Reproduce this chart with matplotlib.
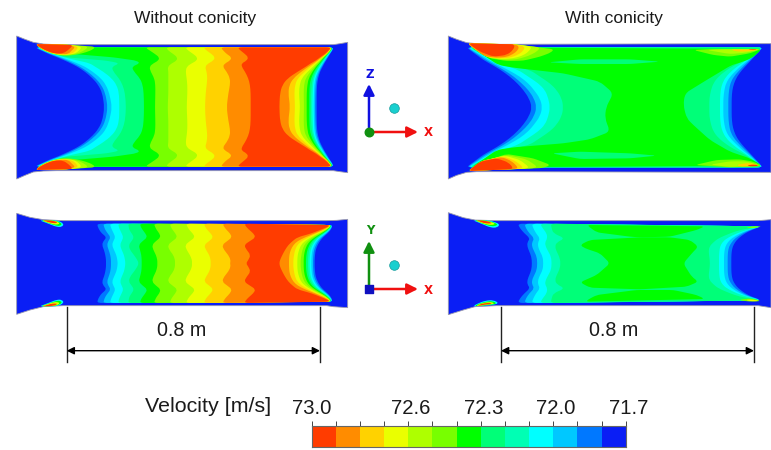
import numpy as np
import matplotlib
matplotlib.use("Agg")
import matplotlib.pyplot as plt
from matplotlib.colors import ListedColormap, BoundaryNorm
from matplotlib.transforms import ScaledTranslation
from matplotlib.path import Path
from matplotlib.patches import PathPatch

plt.rcParams['font.family'] = ['Liberation Sans', 'DejaVu Sans']

W, H = 771, 450
band_colors = ['#0A1EF5', '#0078FF', '#00C8FF', '#00FFFF', '#00FFB4', '#00FF78', '#00FF00',
               '#78FF00', '#AEFF00', '#EAFF00', '#FFD200', '#FF8C00', '#FF3C00']
velocity_edges = [71.7, 71.8, 71.9, 72.0, 72.1, 72.2, 72.3, 72.4, 72.5, 72.6, 72.7, 72.8, 72.9, 73.0]
cbar_ticklabels = {73.0: '73.0', 72.6: '72.6', 72.3: '72.3', 72.0: '72.0', 71.7: '71.7'}

# ---- iso-velocity contours (panel-local units, 3 per pixel) ----
# Without conicity, x-z view
p1_sil_x = [50, 75, 100, 130, 170, 1000, 1020, 1043, 1043, 1020, 1000, 170, 130, 100, 75, 50]
p1_sil_y = [18, 28, 37, 42, 44, 44, 41, 37, 428, 425, 422, 422, 423, 426, 436, 447]
p1_left_y = [52, 62, 72, 82, 92, 100, 110, 125, 145, 165, 190, 232]
p1_left = [
    [103, 125, 145, 172, 195, 212, 232, 255, 278, 295, 307, 313],
    [106, 128, 150, 178, 203, 220, 240, 263, 287, 304, 316, 323],
    [109, 132, 155, 185, 212, 232, 255, 278, 303, 318, 328, 336],
    [112, 135, 160, 192, 235, 270, 285, 310, 335, 350, 357, 358],
    [115, 138, 165, 200, 320, 360, 335, 340, 357, 368, 375, 378],
    [118, 142, 220, 340, 410, 420, 395, 402, 420, 428, 431, 432],
    [435, 450, 465, 478, 475, 460, 448, 452, 463, 466, 466, 465],
    [498, 505, 520, 532, 530, 515, 503, 505, 505, 505, 505, 503],
    [555, 565, 580, 592, 590, 575, 560, 557, 560, 562, 562, 560],
    [610, 620, 635, 645, 640, 625, 615, 620, 622, 620, 617, 615],
    [662, 670, 680, 695, 690, 675, 668, 680, 690, 690, 685, 680],
    [712, 722, 735, 745, 740, 725, 725, 735, 745, 750, 752, 752],
]
p1_right = [
    [1001, 997, 990, 984, 978, 973, 968, 960, 954, 951, 950, 950],
    [1000, 996, 989, 982, 976, 971, 965, 957, 950, 947, 946, 945],
    [999, 995, 987, 980, 973, 968, 962, 953, 946, 943, 942, 941],
    [998, 994, 985, 978, 971, 965, 959, 950, 942, 939, 938, 937],
    [998, 993, 984, 976, 969, 963, 956, 947, 938, 935, 933, 933],
    [997, 992, 983, 974, 966, 960, 952, 942, 933, 929, 928, 928],
    [997, 991, 982, 972, 964, 957, 948, 937, 926, 922, 920, 920],
    [996, 990, 981, 970, 961, 953, 944, 931, 917, 912, 911, 912],
    [996, 989, 980, 968, 958, 949, 939, 923, 905, 899, 897, 900],
    [995, 988, 979, 966, 955, 945, 932, 914, 893, 885, 883, 885],
    [995, 987, 978, 964, 952, 940, 925, 904, 880, 868, 865, 870],
    [994, 985, 975, 960, 947, 932, 918, 893, 863, 847, 840, 838],
]
p1_blobs = [
    (7, [105, 200, 285, 280, 258, 225, 190, 160, 130], [42, 44, 50, 58, 67, 75, 78, 72, 62]),
    (8, [105, 200, 265, 255, 232, 190, 160, 130], [42, 44, 50, 60, 71, 76, 72, 60]),
    (9, [105, 200, 245, 238, 222, 190, 160, 130], [42, 44, 50, 62, 72, 75, 71, 60]),
    (10, [105, 200, 235, 228, 215, 190, 160, 130], [42, 44, 50, 62, 72, 74, 70, 59]),
    (11, [105, 200, 227, 215, 205, 185, 158, 128], [42, 44, 50, 62, 72, 73, 69, 58]),
    (12, [105, 220, 205, 190, 170, 150, 125], [42, 45, 60, 70, 71, 67, 55]),
]

# With conicity, x-z view
p2_sil_x = [55, 80, 110, 140, 175, 1023, 1023, 175, 140, 110, 80, 55]
p2_sil_y = [18, 28, 38, 41, 43, 41, 427, 425, 425, 427, 436, 447]
p2_left_y = [52, 62, 75, 90, 105, 120, 140, 160, 180, 205, 232]
p2_left = [
    [110, 122, 140, 160, 187, 212, 240, 262, 280, 297, 306],
    [113, 126, 146, 168, 195, 222, 252, 275, 295, 312, 320],
    [116, 130, 152, 176, 205, 235, 270, 295, 312, 330, 337],
    [119, 134, 158, 184, 220, 265, 295, 325, 345, 355, 360],
    [122, 137, 160, 186, 235, 300, 330, 360, 380, 395, 400],
]
p2_right = [
    [998, 990, 978, 964, 950, 936, 921, 912, 907, 905, 905],
    [998, 988, 975, 960, 944, 929, 911, 901, 897, 895, 895],
    [997, 986, 972, 955, 936, 920, 900, 888, 883, 880, 880],
    [996, 985, 970, 950, 928, 908, 888, 877, 872, 870, 870],
    [996, 983, 966, 945, 915, 890, 865, 850, 843, 838, 838],
]
p2_green_x = [125, 997, 965, 925, 905, 830, 765, 760, 770, 790, 840, 900, 960, 997, 125, 160, 200, 250,
              400, 480, 540, 525, 528, 550, 510, 400, 250, 205, 182, 160, 140]
p2_green_y = [52, 57, 85, 100, 105, 150, 190, 225, 265, 285, 330, 365, 385, 407, 412, 388, 360, 352,
              340, 328, 305, 265, 232, 190, 155, 130, 113, 105, 90, 75, 62]
p2_blobs = [
    (5, [355, 450, 600, 690, 600, 450], [97, 88, 88, 95, 102, 102]),
    (5, [365, 450, 600, 680, 600, 450], [370, 365, 370, 377, 385, 387]),
    (7, [790, 850, 995, 960, 900, 850], [60, 57, 57, 70, 80, 75]),
    (8, [830, 880, 990, 950, 900], [60, 58, 58, 68, 72]),
    (10, [900, 990, 960, 920], [58, 58, 64, 65]),
    (12, [950, 985, 970], [58, 58, 61]),
    (7, [795, 860, 930, 970, 997, 900], [405, 390, 388, 395, 408, 412]),
    (8, [840, 900, 950, 990, 900], [404, 394, 394, 407, 411]),
    (10, [920, 960, 992, 930], [404, 398, 408, 410]),
    (12, [950, 975, 988, 960], [406, 403, 408, 409]),
    (7, [112, 255, 372, 362, 330, 280, 230, 180, 145], [40, 43, 58, 68, 80, 92, 93, 85, 65]),
    (8, [112, 255, 330, 322, 295, 260, 220, 175, 145], [40, 43, 52, 64, 78, 88, 90, 83, 65]),
    (9, [112, 255, 305, 298, 280, 250, 215, 175, 145], [40, 43, 50, 63, 76, 85, 87, 82, 65]),
    (10, [112, 255, 285, 280, 265, 240, 210, 170, 145], [40, 43, 50, 62, 74, 83, 85, 81, 65]),
    (11, [112, 255, 268, 262, 250, 230, 200, 165, 145], [40, 43, 50, 62, 72, 81, 83, 79, 65]),
    (12, [115, 255, 250, 230, 190, 150], [40, 43, 60, 75, 80, 65]),
    (7, [112, 160, 230, 310, 362, 340, 112], [423, 395, 372, 385, 405, 414, 423]),
    (8, [115, 160, 230, 290, 322, 310, 115], [423, 393, 375, 388, 410, 415, 423]),
    (9, [115, 155, 225, 270, 298, 285, 115], [423, 393, 377, 390, 412, 416, 423]),
    (10, [115, 155, 220, 255, 280, 270, 115], [423, 393, 379, 392, 412, 416, 423]),
    (11, [115, 155, 215, 245, 265, 255, 115], [423, 393, 381, 393, 413, 417, 423]),
    (12, [115, 150, 200, 235, 250, 240, 115], [423, 395, 385, 397, 414, 418, 423]),
]

# Without conicity, x-y view
p3_sil_x = [50, 90, 130, 190, 980, 1010, 1043, 1043, 1000, 980, 190, 130, 90, 50]
p3_sil_y = [25, 37, 44, 47, 47, 46, 43, 308, 305, 302, 302, 305, 315, 328]
p3_left_y = [56, 65, 75, 85, 97, 108, 120, 135, 150, 165, 175]
p3_right_y = [60, 65, 75, 85, 97, 108, 120, 135, 150, 165, 175]
p3_left = [
    [292, 293, 298, 305, 320, 310, 306, 312, 316, 318, 318],
    [310, 312, 316, 323, 332, 325, 321, 326, 331, 333, 333],
    [330, 332, 336, 341, 346, 340, 336, 342, 349, 352, 353],
    [355, 356, 360, 365, 370, 365, 360, 365, 372, 375, 376],
    [385, 386, 388, 395, 402, 395, 386, 390, 402, 412, 416],
    [420, 422, 428, 436, 442, 428, 416, 420, 424, 425, 425],
    [462, 465, 470, 478, 482, 468, 456, 460, 468, 472, 472],
    [510, 512, 518, 526, 532, 518, 503, 508, 520, 525, 525],
    [558, 562, 568, 578, 585, 570, 555, 560, 570, 576, 576],
    [612, 615, 622, 632, 640, 628, 612, 618, 628, 632, 632],
    [668, 672, 680, 690, 696, 682, 666, 672, 685, 692, 690],
    [733, 738, 748, 760, 767, 750, 732, 740, 752, 745, 738],
]
p3_right = [
    [995, 997, 992, 983, 969, 960, 953, 947, 945, 944, 944],
    [994, 996, 990, 980, 965, 955, 948, 942, 940, 939, 939],
    [993, 995, 988, 977, 961, 950, 943, 937, 935, 934, 934],
    [992, 994, 986, 974, 957, 946, 938, 932, 930, 929, 929],
    [991, 993, 984, 971, 953, 941, 933, 927, 925, 924, 924],
    [991, 992, 982, 968, 949, 936, 928, 922, 919, 918, 918],
    [990, 991, 980, 964, 944, 930, 921, 915, 912, 911, 911],
    [990, 990, 978, 960, 938, 923, 913, 907, 904, 902, 902],
    [990, 989, 975, 955, 932, 915, 903, 897, 893, 892, 892],
    [989, 988, 972, 950, 925, 905, 892, 885, 882, 880, 880],
    [988, 987, 968, 945, 915, 893, 880, 872, 868, 867, 867],
    [988, 985, 960, 935, 892, 878, 865, 855, 847, 840, 838],
]
p3_blobs = [
    (3, [118, 172, 192, 186, 170, 150, 132], [46, 46, 56, 66, 66, 58, 51]),
    (6, [122, 168, 187, 180, 168, 150, 135], [46, 47, 56, 63, 62, 56, 50]),
    (9, [125, 165, 181, 172, 160, 147, 135], [46, 47, 55, 59, 58, 54, 50]),
    (12, [128, 160, 174, 164, 150, 138], [46, 47, 53, 55, 53, 49]),
]

# With conicity, x-y view
p4_sil_x = [55, 100, 135, 200, 985, 1023, 1023, 985, 200, 135, 100, 55]
p4_sil_y = [23, 38, 45, 47, 47, 44, 308, 302, 302, 305, 315, 329]
p4_left_y = [56, 70, 85, 100, 112, 125, 140, 155, 175]
p4_right_y = [64, 75, 85, 100, 112, 125, 140, 155, 175]
p4_left = [
    [263, 270, 283, 300, 292, 292, 298, 304, 306],
    [283, 288, 298, 313, 306, 306, 313, 320, 322],
    [305, 310, 318, 330, 324, 324, 330, 338, 340],
    [330, 338, 350, 352, 345, 347, 355, 363, 365],
    [362, 365, 370, 405, 380, 375, 380, 388, 392],
]
p4_right = [
    [996, 965, 945, 925, 915, 908, 905, 904, 904],
    [995, 960, 938, 915, 905, 897, 894, 893, 893],
    [994, 955, 930, 905, 893, 886, 883, 882, 882],
    [993, 950, 920, 890, 877, 870, 868, 867, 867],
    [992, 930, 900, 865, 850, 838, 836, 838, 840],
]
p4_blobs = [
    (6, [470, 825, 800, 720, 630, 600, 500], [60, 64, 75, 95, 97, 95, 82]),
    (6, [472, 500, 620, 730, 800, 825, 470], [285, 270, 255, 255, 270, 282, 290]),
    (6, [450, 480, 630, 720, 780, 805, 790, 760, 785, 805, 770, 630, 480, 450, 500, 540, 510, 465],
        [120, 105, 97, 97, 105, 125, 140, 175, 215, 230, 245, 253, 248, 232, 210, 175, 145, 130]),
    (3, [128, 178, 210, 202, 182, 158, 142], [46, 46, 57, 68, 68, 58, 51]),
    (6, [132, 174, 204, 196, 178, 158, 145], [46, 47, 57, 64, 63, 56, 50]),
    (9, [135, 170, 197, 188, 172, 155, 145], [46, 47, 56, 60, 59, 54, 50]),
    (12, [138, 166, 188, 176, 160, 148], [46, 47, 54, 56, 54, 49]),
    (3, [128, 142, 165, 190, 208, 180, 128], [304, 296, 287, 285, 295, 301, 304]),
    (6, [132, 146, 168, 188, 202, 176, 132], [304, 296, 290, 288, 296, 300, 304]),
    (9, [136, 150, 170, 184, 195, 172, 136], [304, 296, 292, 291, 296, 299, 304]),
    (12, [140, 155, 172, 180, 187, 165, 140], [303, 296, 294, 293, 296, 299, 303]),
    (7, [945, 985, 995, 965], [67, 64, 65, 70]),
    (9, [955, 985, 975], [66, 65, 67]),
    (7, [925, 960, 995, 960], [285, 280, 288, 290]),
    (9, [945, 965, 990, 965], [285, 283, 288, 289]),
]

cmap = ListedColormap(band_colors)
norm = BoundaryNorm(velocity_edges, cmap.N)
fig = plt.figure(figsize=(W / 100, H / 100), dpi=100)


def band_color(level):
    return cmap(norm(velocity_edges[level] + 0.05))


def panel_axes(x0, y0, w, h):
    ax = fig.add_axes([x0 / W, 1 - (y0 + h) / H, w / W, h / H])
    ax.set_xlim(0, w * 3)
    ax.set_ylim(h * 3, 0)
    ax.axis('off')
    return ax


def mirrored(yl, xl, yr, xr, mid):
    yl, xl, yr, xr = map(np.asarray, (yl, xl, yr, xr))
    xs = np.r_[xl, xl[-2::-1], xr, xr[-2::-1]]
    ys = np.r_[yl, 2 * mid - yl[-2::-1], 2 * mid - yr, yr[-2::-1]]
    return xs, ys


def rounded_patch(xs, ys, color, zorder, radius=16):
    """Closed outline through the read contour vertices, corners drawn as quadratic curves."""
    pts = np.column_stack([xs, ys]).astype(float)
    keep = np.r_[True, np.any(pts[1:] != pts[:-1], axis=1)]
    pts = pts[keep]
    if np.all(pts[0] == pts[-1]):
        pts = pts[:-1]
    n = len(pts)
    verts, codes = [], []
    for i in range(n):
        p, a, b = pts[i], pts[i - 1], pts[(i + 1) % n]
        da, db = np.linalg.norm(a - p), np.linalg.norm(b - p)
        cut_in = p + (a - p) * min(radius, da / 2) / da
        cut_out = p + (b - p) * min(radius, db / 2) / db
        verts.append(cut_in)
        codes.append(Path.MOVETO if i == 0 else Path.LINETO)
        verts += [p, cut_out]
        codes += [Path.CURVE3, Path.CURVE3]
    verts.append(verts[0])
    codes.append(Path.CLOSEPOLY)
    return PathPatch(Path(verts, codes), facecolor=color, edgecolor='none', lw=0, zorder=zorder)


def draw_panel(box, sil_x, sil_y, ly, left, ry, right, mid, extra=(), mirror_extra=False, green=None):
    ax = panel_axes(*box)
    ax.fill(sil_x, sil_y, facecolor=band_color(0), edgecolor='#9a9aae', lw=0.6, zorder=1)
    for k, (xl, xr) in enumerate(zip(left, right), start=1):
        xs, ys = mirrored(ly, xl, ry, xr, mid)
        ax.add_patch(rounded_patch(xs, ys, band_color(k), 2))
    if green is not None:
        ax.add_patch(rounded_patch(green[0], green[1], band_color(6), 2))
    for level, xs, ys in extra:
        ax.add_patch(rounded_patch(xs, ys, band_color(level), 3, radius=12))
        if mirror_extra:
            ax.add_patch(rounded_patch(xs, 2 * mid - np.asarray(ys), band_color(level), 3, radius=12))
    return ax


draw_panel((0, 30, 360, 160), p1_sil_x, p1_sil_y, p1_left_y, p1_left, p1_left_y, p1_right, 231,
           p1_blobs, True)
draw_panel((430, 30, 341, 160), p2_sil_x, p2_sil_y, p2_left_y, p2_left, p2_left_y, p2_right, 232,
           p2_blobs, False, (p2_green_x, p2_green_y))
draw_panel((0, 205, 360, 160), p3_sil_x, p3_sil_y, p3_left_y, p3_left, p3_right_y, p3_right, 175,
           p3_blobs, True)
draw_panel((430, 205, 341, 160), p4_sil_x, p4_sil_y, p4_left_y, p4_left, p4_right_y, p4_right, 175,
           p4_blobs, False)

# overlay in pixel units
ov = fig.add_axes([0, 0, 1, 1], facecolor='none')
ov.set_xlim(0, W)
ov.set_ylim(H, 0)
ov.axis('off')

TXT = '#1a1a1a'
ov.text(195, 19, 'Without conicity', fontsize=12.5, ha='center', va='center', color=TXT)
ov.text(614, 19, 'With conicity', fontsize=12.5, ha='center', va='center', color=TXT)

for xa, xb, tx in [(66.7, 320, 182), (501, 754, 614)]:
    for xv in (xa, xb):
        ov.plot([xv, xv], [307, 362], color='#222222', lw=1.0)
    ov.annotate('', xy=(xa, 350.7), xytext=(xb, 350.7),
                arrowprops=dict(arrowstyle='<|-|>', color='black', lw=1.0, shrinkA=0, shrinkB=0, mutation_scale=11))
    ov.text(tx, 331, '0.8 m', fontsize=14.2, ha='center', va='center', color=TXT)


def triad(y0, up_color, up_label, dot_color, marker):
    ox = 369
    ov.annotate('', xy=(ox, y0 - 48), xytext=(ox, y0),
                arrowprops=dict(arrowstyle='-|>', color=up_color, lw=1.8, shrinkA=0, shrinkB=0, mutation_scale=16))
    ov.annotate('', xy=(418, y0), xytext=(ox, y0),
                arrowprops=dict(arrowstyle='-|>', color='#F01010', lw=1.8, shrinkA=0, shrinkB=0, mutation_scale=16))
    ov.scatter([ox], [y0], s=38, color=dot_color, marker=marker, zorder=5)
    ov.scatter([394], [y0 - 24], s=48, color='#19CFCF', edgecolor='#149a9a', lw=0.5, zorder=5)
    ov.text(ox + 1, y0 - 58, up_label, color=up_color, fontsize=8.5, fontweight='bold',
            ha='center', va='center', family='DejaVu Sans')
    ov.text(428, y0 + 1, 'X', color='#F01010', fontsize=8.5, fontweight='bold',
            ha='center', va='center', family='DejaVu Sans')


triad(132, '#1010E0', 'Z', '#109010', 'o')
triad(289, '#109010', 'Y', '#1010C0', 's')

# colour bar
ov.text(208, 406, 'Velocity [m/s]', fontsize=15.4, ha='center', va='center', color=TXT)
cb = fig.add_axes([311.7 / W, 1 - 447.3 / H, (625.7 - 311.7) / W, 21.6 / H])
edges = np.array(velocity_edges)
cb.pcolormesh(edges, [0, 1], ((edges[:-1] + edges[1:]) / 2)[None, :], cmap=cmap, norm=norm)
cb.set_xlim(73.0, 71.7)
cb.set_yticks([])
cb.xaxis.tick_top()
cb.set_xticks(velocity_edges)
cb.set_xticklabels([cbar_ticklabels.get(v, '') for v in velocity_edges], fontsize=14.6, color=TXT)
cb.tick_params(axis='x', length=3.4, width=0.7, color='#444444', pad=2.5)
for lab, v in zip(cb.get_xticklabels(), velocity_edges):
    if v != 73.0:
        lab.set_transform(lab.get_transform() + ScaledTranslation(2.5 / 100, 0, fig.dpi_scale_trans))
for s in cb.spines.values():
    s.set_color('#666666')
    s.set_linewidth(0.8)

fig.savefig('out.png', dpi=100)
